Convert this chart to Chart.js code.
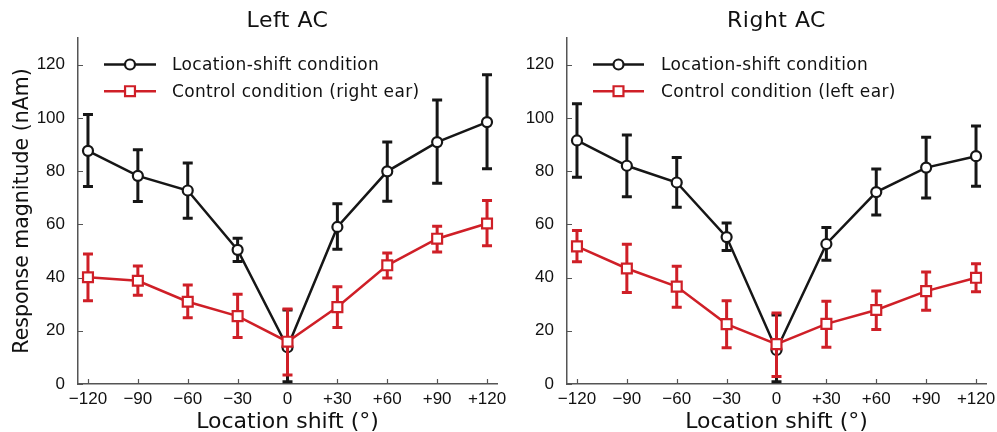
<!DOCTYPE html>
<html><head><meta charset="utf-8">
<script src="https://cdn.jsdelivr.net/npm/chart.js@4.4.1/dist/chart.umd.min.js"></script>
<style>
html,body{margin:0;padding:0;background:#fff;}
#wrap{position:relative;width:997px;height:432px;overflow:hidden;background:#fff;}
canvas{position:absolute;top:0;}
#c1{left:0;}
#c2{left:500px;}
</style></head><body>
<div id="wrap">
<canvas id="c1" width="520" height="432"></canvas>
<canvas id="c2" width="497" height="432"></canvas>
</div>
<script>
const shiftValues = [-120, -90, -60, -30, 0, 30, 60, 90, 120];
const shiftLabels = ['−120', '−90', '−60', '−30', '0', '+30', '+60', '+90', '+120'];
const yTickValues = [0, 20, 40, 60, 80, 100, 120];
const yTickLabels = ['0', '20', '40', '60', '80', '100', '120'];

const leftShiftMean  = [87.6, 78.2, 72.7, 50.4, 13.8, 59.0, 79.9, 90.9, 98.4];
const leftShiftUpper = [101.3, 88.0, 83.0, 54.8, 27.8, 67.7, 90.9, 106.7, 116.2];
const leftShiftLower = [74.2, 68.6, 62.3, 46.0, 0.8, 50.6, 68.7, 75.4, 80.9];
const leftControlMean  = [40.1, 38.8, 30.9, 25.5, 15.9, 28.9, 44.6, 54.6, 60.3];
const leftControlUpper = [48.8, 44.3, 37.2, 33.7, 28.2, 36.5, 49.2, 59.3, 68.9];
const leftControlLower = [31.3, 33.3, 24.9, 17.5, 3.4, 21.2, 39.8, 49.6, 51.9];

const rightShiftMean  = [91.5, 82.0, 75.7, 55.2, 12.8, 52.6, 72.1, 81.3, 85.6];
const rightShiftUpper = [105.3, 93.6, 85.1, 60.5, 25.9, 58.8, 80.8, 92.7, 96.9];
const rightShiftLower = [77.7, 70.4, 66.4, 50.2, 0.8, 46.5, 63.5, 69.9, 74.3];
const rightControlMean  = [51.7, 43.4, 36.6, 22.5, 15.0, 22.6, 27.8, 34.9, 39.9];
const rightControlUpper = [57.7, 52.5, 44.2, 31.3, 26.7, 31.1, 34.9, 42.1, 45.2];
const rightControlLower = [45.9, 34.4, 28.8, 13.6, 2.8, 13.8, 20.5, 27.7, 34.7];

const BLACK = '#161616';
const RED = '#cf1f27';
const AXIS = '#555555';
const TEXT = '#111111';

function pts(arr) { return arr.map((v, i) => ({x: shiftValues[i], y: v})); }

function drawMarker(ctx, style, r, x, y, color, bw) {
  ctx.save();
  ctx.lineWidth = bw;
  ctx.strokeStyle = color;
  ctx.fillStyle = '#fff';
  ctx.beginPath();
  if (style === 'rect') {
    const s = Math.SQRT1_2 * r;
    ctx.rect(x - s, y - s, 2 * s, 2 * s);
  } else {
    ctx.arc(x, y, r, 0, Math.PI * 2);
  }
  ctx.fill();
  ctx.stroke();
  ctx.restore();
}

const errorBarPlugin = {
  id: 'errorBars',
  beforeDatasetDraw(chart, args) {
    const ds = chart.data.datasets[args.index];
    if (!ds.errUpper) return;
    const {ctx, scales: {x, y}} = chart;
    ctx.save();
    ctx.strokeStyle = ds.borderColor;
    ctx.lineWidth = 3;
    ctx.lineCap = 'butt';
    ds.data.forEach((p, i) => {
      const px = x.getPixelForValue(p.x);
      const yu = y.getPixelForValue(ds.errUpper[i]);
      const yl = y.getPixelForValue(ds.errLower[i]);
      ctx.beginPath();
      ctx.moveTo(px, yu); ctx.lineTo(px, yl);
      ctx.moveTo(px - 5, yu); ctx.lineTo(px + 5, yu);
      ctx.moveTo(px - 5, yl); ctx.lineTo(px + 5, yl);
      ctx.stroke();
    });
    ctx.restore();
  }
};

const inwardTicksPlugin = {
  id: 'inwardTicks',
  beforeDatasetsDraw(chart) {
    const {ctx, scales: {x, y}, chartArea} = chart;
    ctx.save();
    ctx.strokeStyle = AXIS;
    ctx.lineWidth = 1.2;
    ctx.beginPath();
    x.ticks.forEach(t => {
      const px = Math.round(x.getPixelForValue(t.value)) + 0.5;
      ctx.moveTo(px, chartArea.bottom); ctx.lineTo(px, chartArea.bottom - 5);
    });
    y.ticks.forEach(t => {
      const py = Math.round(y.getPixelForValue(t.value)) + 0.5;
      ctx.moveTo(chartArea.left, py); ctx.lineTo(chartArea.left + 5, py);
    });
    ctx.stroke();
    ctx.restore();
  }
};

const legendTitlePlugin = {
  id: 'legendTitle',
  afterDraw(chart, args, opts) {
    const {ctx, chartArea} = chart;
    ctx.save();
    ctx.font = '22px "DejaVu Sans"';
    ctx.fillStyle = TEXT;
    ctx.textAlign = 'center';
    ctx.textBaseline = 'middle';
    try { ctx.letterSpacing = '0.5px'; } catch (e) {}
    ctx.fillText(opts.title, (chartArea.left + chartArea.right) / 2, 21);
    ctx.font = '17px "DejaVu Sans"';
    ctx.textAlign = 'left';
    try { ctx.letterSpacing = '0.35px'; } catch (e) {}
    chart.data.datasets.forEach((ds, i) => {
      const yy = opts.y0 + i * opts.dy;
      ctx.strokeStyle = ds.borderColor;
      ctx.lineWidth = ds.borderWidth;
      ctx.beginPath();
      ctx.moveTo(opts.x0, yy); ctx.lineTo(opts.x1, yy);
      ctx.stroke();
      drawMarker(ctx, ds.pointStyle, ds.pointRadius, (opts.x0 + opts.x1) / 2, yy, ds.borderColor, ds.pointBorderWidth);
      ctx.fillStyle = TEXT;
      ctx.fillText(ds.label, opts.textX, yy + 1);
    });
    ctx.restore();
  }
};

function makeChart(id, title, shiftM, shiftU, shiftL, ctrlM, ctrlU, ctrlL, ctrlLabel, yAxisWidth, padRight, showYTitle, legendX0, legendX1, legendTextX) {
  return new Chart(document.getElementById(id), {
    type: 'line',
    data: {
      datasets: [
        {
          label: 'Location-shift condition',
          data: pts(shiftM), errUpper: shiftU, errLower: shiftL,
          borderColor: BLACK, borderWidth: 2.5,
          pointStyle: 'circle', pointRadius: 5, pointBorderWidth: 2.2,
          pointBackgroundColor: '#fff', pointBorderColor: BLACK,
          order: 2, tension: 0
        },
        {
          label: ctrlLabel,
          data: pts(ctrlM), errUpper: ctrlU, errLower: ctrlL,
          borderColor: RED, borderWidth: 2.5,
          pointStyle: 'rect', pointRadius: 7, pointBorderWidth: 2.2,
          pointBackgroundColor: '#fff', pointBorderColor: RED,
          order: 1, tension: 0
        }
      ]
    },
    options: {
      responsive: false,
      animation: false,
      events: [],
      layout: {padding: {top: 38, right: padRight, bottom: 0, left: 0}},
      plugins: {
        legend: {display: false},
        title: {display: false},
        tooltip: {enabled: false},
        legendTitle: {title: title, x0: legendX0, x1: legendX1, textX: legendTextX, y0: 64.5, dy: 26.7}
      },
      scales: {
        x: {
          type: 'linear', min: -126, max: 126,
          afterBuildTicks: s => { s.ticks = shiftValues.map(v => ({value: v})); },
          afterFit: s => { s.height = 48; },
          ticks: {
            callback: (v, i) => shiftLabels[i],
            font: {family: 'Liberation Sans', size: 17},
            color: TEXT, padding: -3, maxRotation: 0, autoSkip: false
          },
          grid: {display: false},
          border: {display: true, color: AXIS, width: 1.5},
          title: {display: true, text: 'Location shift (°)', font: {family: 'DejaVu Sans', size: 22}, color: TEXT, padding: {top: 0, bottom: -3}}
        },
        y: {
          min: 0, max: 130,
          afterBuildTicks: s => { s.ticks = yTickValues.map(v => ({value: v})); },
          afterFit: s => { s.width = yAxisWidth; },
          ticks: {
            callback: (v, i) => yTickLabels[i],
            font: {family: 'Liberation Sans', size: 17},
            color: TEXT, padding: 5
          },
          grid: {display: false},
          border: {display: true, color: AXIS, width: 1.5},
          title: {display: showYTitle, text: 'Response magnitude (nAm)', font: {family: 'DejaVu Sans', size: 20.5}, color: TEXT, padding: {top: 10, bottom: 0}}
        }
      }
    },
    plugins: [errorBarPlugin, inwardTicksPlugin, legendTitlePlugin]
  });
}

makeChart('c1', 'Left AC', leftShiftMean, leftShiftUpper, leftShiftLower,
  leftControlMean, leftControlUpper, leftControlLower, 'Control condition (right ear)',
  78, 23, true, 104, 156, 172);
makeChart('c2', 'Right AC', rightShiftMean, rightShiftUpper, rightShiftLower,
  rightControlMean, rightControlUpper, rightControlLower, 'Control condition (left ear)',
  67, 11, false, 93, 144, 161);
</script>
</body></html>
